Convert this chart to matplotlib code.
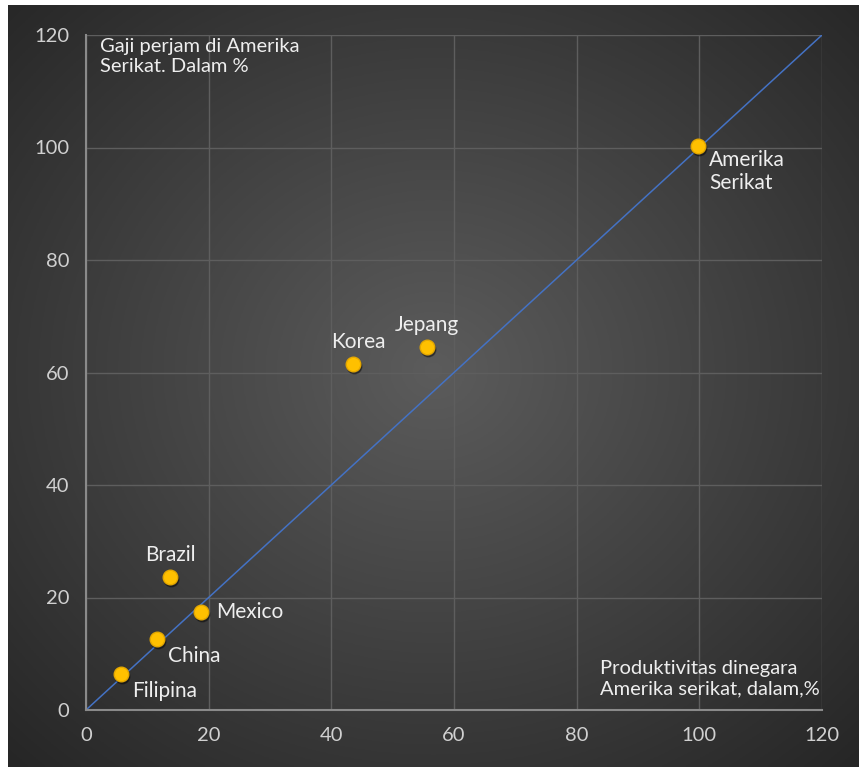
import numpy as np
import matplotlib
import matplotlib.pyplot as plt

matplotlib.rc("font", family=["Lato", "DejaVu Sans"])

negara = ["Filipina", "China", "Mexico", "Brazil", "Korea", "Jepang", "Amerika\nSerikat"]
produktivitas = [5.7, 11.6, 18.8, 13.7, 43.5, 55.6, 99.8]
gaji = [6.4, 12.6, 17.4, 23.6, 61.5, 64.5, 100.3]
# label offsets in points (dx, dy, ha, va)
posisi = [(8, -5, "left", "top"), (8, -5, "left", "top"), (11, 0, "left", "center"),
          (0, 9, "center", "bottom"), (4, 9, "center", "bottom"), (0, 9, "center", "bottom"),
          (8, -3, "left", "top")]
ticks = [0, 20, 40, 60, 80, 100, 120]

W, H = 859, 767
fig = plt.figure(figsize=(W / 100, H / 100), dpi=100, facecolor="white")

# dark radial background
bg = fig.add_axes([8 / W, 0, 1 - 8 / W, 1 - 5 / H])
yy, xx = np.mgrid[0:1:300j, 0:1:300j]
r = np.sqrt(((xx - 0.5) / 0.75) ** 2 + ((yy - 0.52) / 0.75) ** 2)
g = np.clip(0.36 - 0.22 * r, 0.15, 0.4)
bg.imshow(np.dstack([g, g, g]), extent=[0, 1, 0, 1], aspect="auto", origin="lower")
bg.axis("off")

ax = fig.add_axes([86 / W, 57 / H, 736 / W, 675 / H])
ax.set_facecolor("none")
ax.set_xlim(0, 120)
ax.set_ylim(0, 120)
ax.set_xticks(ticks)
ax.set_yticks(ticks)
ax.grid(True, color="#5e5e5e", linewidth=1)
ax.set_axisbelow(True)
for s in ["top", "right"]:
    ax.spines[s].set_visible(False)
ax.spines["bottom"].set_color("#8a8a8a")
ax.spines["left"].set_color("#8a8a8a")
ax.spines["bottom"].set_linewidth(1.5)
ax.spines["left"].set_linewidth(1.5)
ax.tick_params(length=0, colors="#d0d0d0", labelsize=14.5, pad=12)

ax.plot([0, 120], [0, 120], color="#4472C4", linewidth=1.1, zorder=2)
# small shadow under markers
ax.scatter(produktivitas, gaji, s=110, color="black", alpha=0.35, zorder=3,
           transform=ax.transData + matplotlib.transforms.ScaledTranslation(1 / 100, -2 / 100, fig.dpi_scale_trans))
ax.scatter(produktivitas, gaji, s=110, color="#FFC000", edgecolors="#E5A800", linewidths=1, zorder=4)

for n, x, y, (dx, dy, ha, va) in zip(negara, produktivitas, gaji, posisi):
    ax.annotate(n, (x, y), xytext=(dx, dy), textcoords="offset points", ha=ha, va=va,
                color="#eeeeee", fontsize=15, linespacing=1.2, zorder=5)

ax.text(100 / W, 1 - 38 / H, "Gaji perjam di Amerika\nSerikat. Dalam %", transform=fig.transFigure,
        ha="left", va="top", color="#eeeeee", fontsize=14.5, linespacing=1.25)
ax.text(600 / W, 1 - 660 / H, "Produktivitas dinegara\nAmerika serikat, dalam,%", transform=fig.transFigure,
        ha="left", va="top", color="#eeeeee", fontsize=14.5, linespacing=1.25)

fig.savefig("out.png", dpi=100)
